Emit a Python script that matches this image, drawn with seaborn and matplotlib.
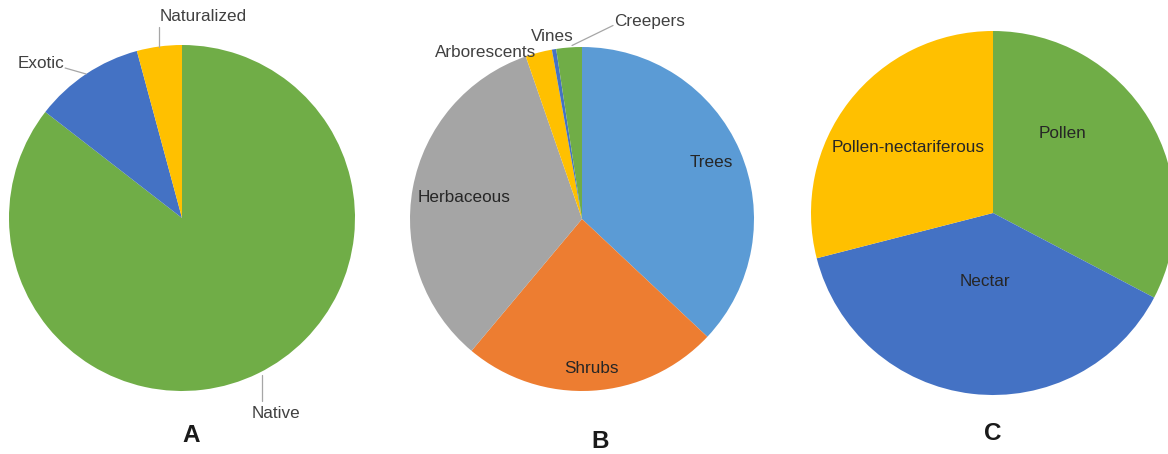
import numpy as np
import matplotlib
matplotlib.use("Agg")
import matplotlib.pyplot as plt
import seaborn as sns

# data (percent)
a_labels = ["Native", "Exotic", "Naturalized"]
a_values = [85.5, 10.3, 4.2]

b_labels = ["Trees", "Shrubs", "Herbaceous", "Arborescents", "Vines", "Creepers"]
b_values = [37.0, 24.1, 33.6, 2.5, 0.4, 2.4]

c_labels = ["Pollen", "Nectar", "Pollen-nectariferous"]
c_values = [32.7, 38.3, 29.0]

panel_titles = ["A", "B", "C"]

# office-like colours
blue, lblue, orange, grey, gold, green = "#4472C4", "#5B9BD5", "#ED7D31", "#A5A5A5", "#FFC000", "#70AD47"
a_colors = sns.color_palette([green, blue, gold])
b_colors = sns.color_palette([lblue, orange, grey, gold, blue, green])
c_colors = sns.color_palette([green, blue, gold])

sns.set_theme(style="white")
plt.rcParams['font.family'] = ['Liberation Sans', 'DejaVu Sans']

W, H = 1168, 454
fig = plt.figure(figsize=(W / 100, H / 100), dpi=100)
ax = fig.add_axes([0, 0, 1, 1])

lab_fs = 12.3
in_col = "#262626"
out_col = "#404040"
line_col = "#A6A6A6"


def draw_pie(values, colors, cx, cy, r):
    wedges, _ = ax.pie(values, colors=colors, startangle=90, counterclock=False,
                       center=(cx, cy), radius=r, frame=True,
                       wedgeprops=dict(linewidth=0))
    return wedges


def arc_point(w, cx, cy, r, d=1.0, dang=0.0):
    phi = np.deg2rad((w.theta1 + w.theta2) / 2 + dang)
    return cx + d * r * np.cos(phi), cy + d * r * np.sin(phi)


# ---- A ----
ca = (182, 236, 173)
wa = draw_pie(a_values, a_colors, *ca)
x, y = arc_point(wa[0], *ca)
ax.plot([x + 4, x + 4], [y - 2, y - 28], color=line_col, lw=0.9)
ax.text(x + 18, y - 40, a_labels[0], ha="center", va="center", fontsize=lab_fs, color=out_col)
x, y = arc_point(wa[1], *ca)
ax.plot([x, x - 21], [y, y + 6], color=line_col, lw=0.9)
ax.text(x - 22, y + 11, a_labels[1], ha="right", va="center", fontsize=lab_fs, color=out_col)
x, y = arc_point(wa[2], *ca)
ax.plot([x, x], [y, y + 20], color=line_col, lw=0.9)
ax.text(x, y + 30, a_labels[2], ha="left", va="center", fontsize=lab_fs, color=out_col)

# ---- B ----
cb = (582, 235, 172)
wb = draw_pie(b_values, b_colors, *cb)
for w, lab, d in zip(wb[:3], b_labels[:3], [0.82, 0.87, 0.70]):
    x, y = arc_point(w, *cb, d=d)
    ax.text(x, y, lab, ha="center", va="center", fontsize=lab_fs, color=in_col)
x, y = arc_point(wb[3], *cb)
ax.text(x - 2, y, b_labels[3], ha="right", va="center", fontsize=lab_fs, color=out_col)
x, y = arc_point(wb[4], *cb)
ax.text(x - 2, y + 13, b_labels[4], ha="center", va="center", fontsize=lab_fs, color=out_col)
x, y = arc_point(wb[5], *cb)
ax.plot([x + 3, x + 44], [y + 2, y + 22], color=line_col, lw=0.9)
ax.text(x + 45, y + 26, b_labels[5], ha="left", va="center", fontsize=lab_fs, color=out_col)

# ---- C ----
cc = (993, 241, 182)
wc = draw_pie(c_values, c_colors, *cc)
for w, lab, d, dang in zip(wc, c_labels, [0.58, 0.38, 0.59], [18, 0, 0]):
    x, y = arc_point(w, *cc, d=d, dang=dang)
    ax.text(x, y, lab, ha="center", va="center", fontsize=lab_fs, color=in_col)

# panel letters
for (tx, ty), t in zip([(191, 18), (600, 13), (993, 21)], panel_titles):
    ax.text(tx, ty, t, ha="center", va="center", fontsize=17.5, fontweight="bold", color="#1a1a1a")

ax.set_xlim(0, W)
ax.set_ylim(0, H)
ax.set_aspect("equal")
ax.axis("off")

fig.savefig("out.png", dpi=100, facecolor="white")
